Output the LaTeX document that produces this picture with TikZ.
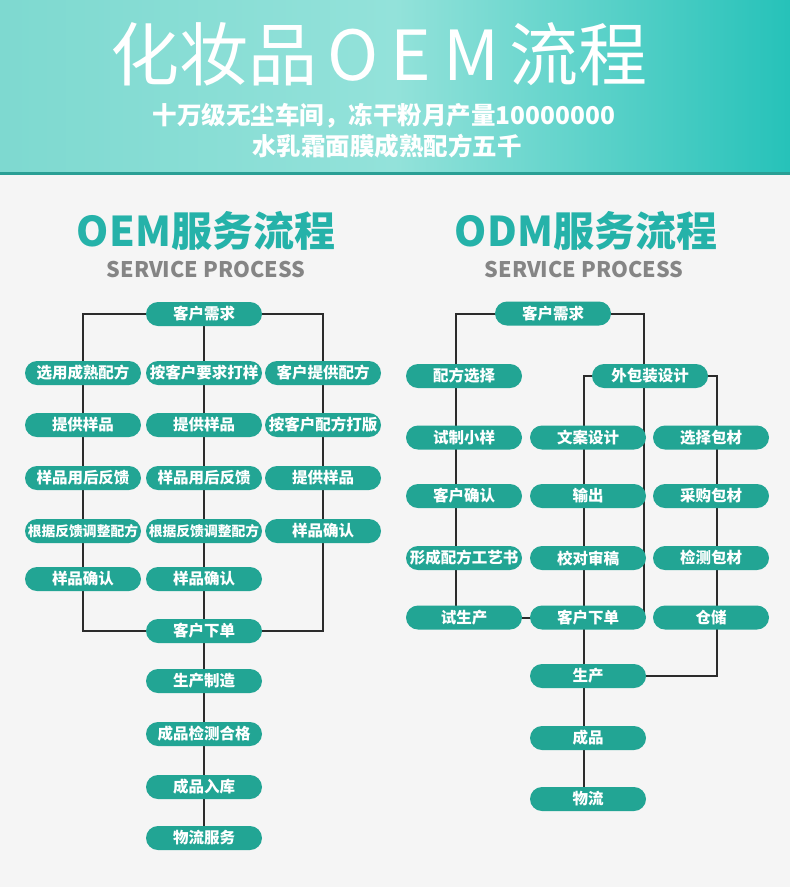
\documentclass[tikz,border=0pt]{standalone}
\usepackage{fontspec}
\newfontfamily\cjk{Noto Sans CJK SC}
\definecolor{pagebg}{HTML}{F5F5F5}
\definecolor{hdrL}{HTML}{7ED9D0}
\definecolor{hdrM}{HTML}{93E2DA}
\definecolor{hdrR}{HTML}{26C2B9}
\definecolor{hdrline}{HTML}{2A9F95}
\definecolor{boxfill}{HTML}{22A594}
\definecolor{headteal}{HTML}{25B2A9}
\definecolor{subgray}{HTML}{858585}
\definecolor{linecol}{HTML}{2B2B2B}
\pgfdeclarelayer{lines}
\pgfsetlayers{lines,main}
\tikzset{
  box/.style={rectangle, rounded corners=12pt, fill=boxfill, minimum width=116pt, minimum height=24pt, inner sep=0pt, text=white, font=\cjk\bfseries\fontsize{15.5}{15.5}\selectfont},
  boxsm/.style={box, font=\cjk\bfseries\fontsize{13.8}{14}\selectfont},
  conn/.style={draw=linecol, line width=2pt},
}
\begin{document}
\begin{tikzpicture}[x=1pt,y=-1pt]
\useasboundingbox (0,0) rectangle (790,887);
\begin{pgfonlayer}{lines}
\fill[pagebg] (0,0) rectangle (790,887);
\shade[left color=hdrL, right color=hdrR, middle color=hdrM] (0,0) rectangle (790,173);
\fill[hdrline] (0,172) rectangle (790,175);
\end{pgfonlayer}

% header texts
\node[text=white, inner sep=0pt, font=\cjk\fontsize{69}{69}\selectfont] (title) at (379,54) {化妆品\hspace{10pt}O\hspace{12pt}E\hspace{12pt}M\hspace{10pt}流程};
\node[text=white, inner sep=0pt, font=\cjk\bfseries\fontsize{24.5}{24.5}\selectfont] (sub1) at (384,116) {十万级无尘车间，冻干粉月产量10000000};
\node[text=white, inner sep=0pt, font=\cjk\bfseries\fontsize{24.5}{24.5}\selectfont] (sub2) at (387,146) {水乳霜面膜成熟配方五千};

\node[text=headteal, inner sep=0pt, font=\cjk\bfseries\fontsize{41}{41}\selectfont] (oemt) at (206,231) {OEM服务流程};
\node[text=subgray, inner sep=0pt, font=\cjk\bfseries\fontsize{21.5}{21.5}\selectfont] (oems) at (206,269) {SERVICE PROCESS};
\node[text=headteal, inner sep=0pt, font=\cjk\bfseries\fontsize{41}{41}\selectfont] (odmt) at (586,231) {ODM服务流程};
\node[text=subgray, inner sep=0pt, font=\cjk\bfseries\fontsize{21.5}{21.5}\selectfont] (odms) at (584,269) {SERVICE PROCESS};

% OEM nodes
\node[box] (o0) at (204,314) {客户需求};
\node[box] (o1l) at (83,373) {选用成熟配方};
\node[box] (o1m) at (204,373) {按客户要求打样};
\node[box] (o1r) at (323,373) {客户提供配方};
\node[box] (o2l) at (83,425) {提供样品};
\node[box] (o2m) at (204,425) {提供样品};
\node[box] (o2r) at (323,425) {按客户配方打版};
\node[box] (o3l) at (83,478) {样品用后反馈};
\node[box] (o3m) at (204,478) {样品用后反馈};
\node[box] (o3r) at (323,478) {提供样品};
\node[boxsm] (o4l) at (83,531) {根据反馈调整配方};
\node[boxsm] (o4m) at (204,531) {根据反馈调整配方};
\node[box] (o4r) at (323,531) {样品确认};
\node[box] (o5l) at (83,579) {样品确认};
\node[box] (o5m) at (204,579) {样品确认};
\node[box] (o6) at (204,631) {客户下单};
\node[box] (o7) at (204,681) {生产制造};
\node[box] (o8) at (204,734) {成品检测合格};
\node[box] (o9) at (204,787) {成品入库};
\node[box] (o10) at (204,838) {物流服务};

% ODM nodes
\node[box] (d0) at (553,313.5) {客户需求};
\node[box] (d1) at (464,376) {配方选择};
\node[box] (pkg) at (650,376) {外包装设计};
\node[box] (d2) at (464,437.5) {试制小样};
\node[box] (wa) at (588,437.5) {文案设计};
\node[box] (xz) at (711,437.5) {选择包材};
\node[box] (d3) at (464,496) {客户确认};
\node[box] (sc) at (588,496) {输出};
\node[box] (cg) at (711,496) {采购包材};
\node[box] (d4) at (464,558) {形成配方工艺书};
\node[box] (jd) at (588,558) {校对审稿};
\node[box] (jc) at (711,558) {检测包材};
\node[box] (d5) at (464,617.5) {试生产};
\node[box] (od) at (588,617.5) {客户下单};
\node[box] (cc) at (711,617.5) {仓储};
\node[box] (sc2) at (588,676) {生产};
\node[box] (cp) at (588,738) {成品};
\node[box] (wl) at (588,799) {物流};

\begin{pgfonlayer}{lines}
% OEM connectors
\draw[conn] (o0.center) -| (o1l.center);
\draw[conn] (o0.center) -| (o1r.center);
\draw[conn] (o0.center) -- (o1m.center);
\draw[conn] (o1l.center) -- (o2l.center) -- (o3l.center) -- (o4l.center) -- (o5l.center) |- (o6.center);
\draw[conn] (o1m.center) -- (o2m.center) -- (o3m.center) -- (o4m.center) -- (o5m.center) -- (o6.center) -- (o7.center) -- (o8.center) -- (o9.center) -- (o10.center);
\draw[conn] (o1r.center) -- (o2r.center) -- (o3r.center) -- (o4r.center) |- (o6.center);
% ODM connectors
\draw[conn] (d0.center) -| ([xshift=-8pt]d1.center) -- ([xshift=-8pt]d2.center) -- ([xshift=-8pt]d3.center) -- ([xshift=-8pt]d4.center) -- ([xshift=-8pt]d5.center);
\draw[conn] (d5.center) -- (od.center);
\draw[conn] (d0.center) -| ([xshift=-2pt]od.east);
\draw[conn] (pkg.center) -| ([xshift=-4pt]wa.center) -- ([xshift=-4pt]sc.center) -- ([xshift=-4pt]jd.center) -- ([xshift=-4pt]od.center) -- ([xshift=-4pt]sc2.center) -- ([xshift=-4pt]cp.center) -- ([xshift=-4pt]wl.center);
\draw[conn] (pkg.center) -| ([xshift=6pt]xz.center) -- ([xshift=6pt]cg.center) -- ([xshift=6pt]jc.center) -- ([xshift=6pt]cc.center) |- (sc2.center);
\end{pgfonlayer}
\end{tikzpicture}
\end{document}
